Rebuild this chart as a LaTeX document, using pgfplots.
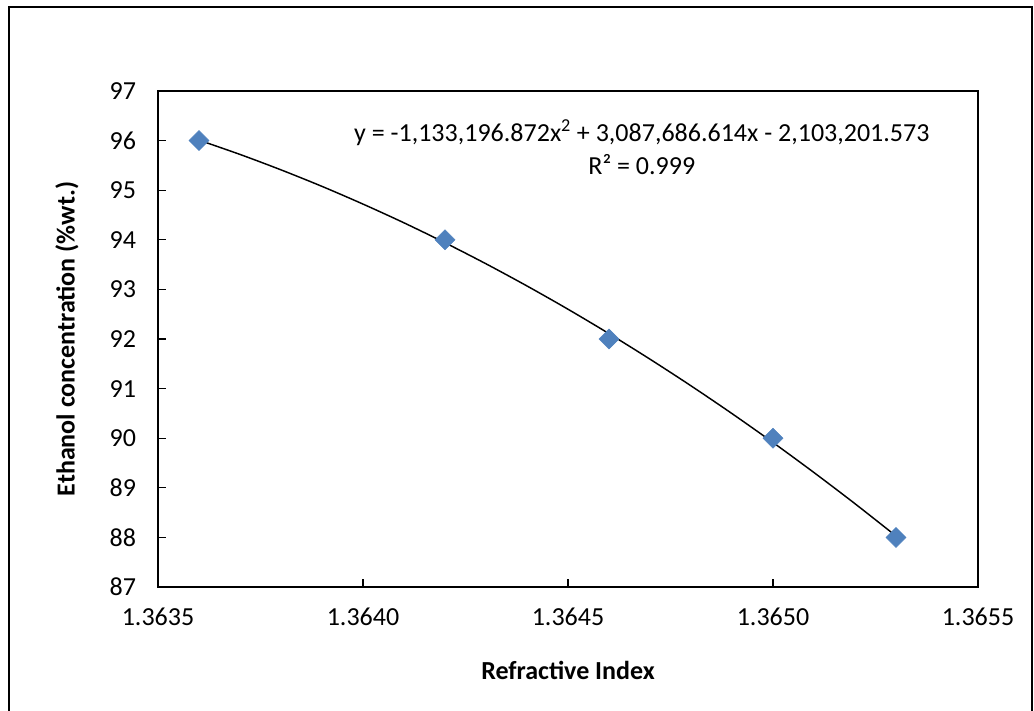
\documentclass[border=0pt]{standalone}
\usepackage{pgfplots}
\pgfplotsset{compat=1.18}
\usepackage{fontspec}
\setmainfont{Carlito}
\definecolor{mkblue}{HTML}{4F81BD}
\begin{document}
\begin{tikzpicture}
\path[use as bounding box] (-118.5pt,-92.25pt) rectangle (657pt,440.25pt);
\draw[line width=1.5pt] (-111.75pt,-95pt) -- (-111.75pt,435pt) -- (655.5pt,435pt) -- (655.5pt,-95pt);
\begin{axis}[
  at={(0,0)}, anchor=south west,
  scale only axis, width=615pt, height=372pt,
  xmin=1.3635, xmax=1.3655, ymin=87, ymax=97,
  xtick={1.3635,1.3640,1.3645,1.3650,1.3655},
  ytick={87,88,...,97},
  xticklabels={1.3635,1.3640,1.3645,1.3650,1.3655},
  tick align=inside, major tick length=6pt,
  tick style={black, line width=0.8pt},
  axis line style={black, line width=1.3pt},
  ytick pos=left, xtick pos=bottom,
  font=\fontsize{19.5}{23}\selectfont,
  /pgf/number format/assume math mode=true,
  yticklabel style={anchor=east, xshift=-13pt},
  xticklabel style={anchor=north, yshift=-12pt},
  xlabel={\textbf{Refractive Index}},
  ylabel={\textbf{Ethanol concentration (\%wt.)}},
  xlabel style={at={(axis description cs:0.5,0)}, anchor=north, yshift=-52pt},
  ylabel style={at={(axis description cs:0,0.5)}, anchor=south, yshift=56pt},
  clip=false,
]
\addplot[only marks, mark=square*, mark size=5.3pt, mark options={rotate=45, fill=mkblue, draw=mkblue}]
  coordinates {(1.3636,96) (1.3642,94) (1.3646,92) (1.3650,90) (1.3653,88)};
\addplot[black, line width=1.1pt, smooth] coordinates {
(1.3636,96.009) (1.3637,95.721) (1.3638,95.410) (1.3639,95.077) (1.3640,94.720)
(1.3641,94.342) (1.3642,93.940) (1.3643,93.516) (1.3644,93.069) (1.3645,92.600)
(1.3646,92.108) (1.3647,91.593) (1.3648,91.056) (1.3649,90.496) (1.3650,89.913)
(1.3651,89.307) (1.3652,88.679) (1.3653,88.028)};
\node[align=center, font=\fontsize{19.5}{25}\selectfont] at (axis cs:1.36468,95.87)
  {y = -1,133,196.872x\textsuperscript{2} + 3,087,686.614x - 2,103,201.573\\R² = 0.999};
\end{axis}
\end{tikzpicture}
\end{document}
